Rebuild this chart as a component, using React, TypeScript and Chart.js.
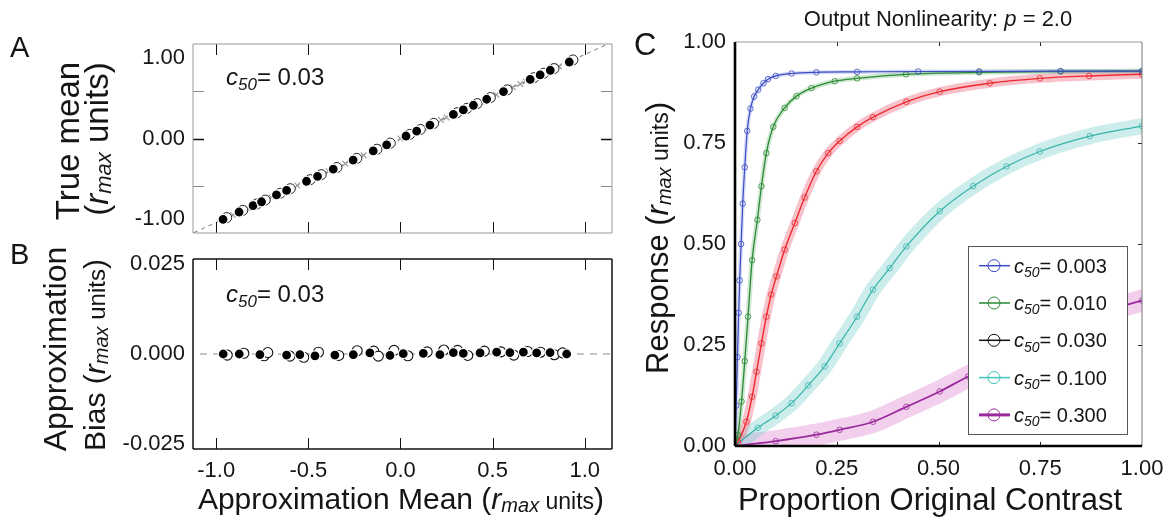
import React, { useEffect, useRef } from "react";
import { Chart, registerables } from "chart.js";
Chart.register(...registerables);

const FONT = "'Liberation Sans', Arial, Helvetica, sans-serif";

// ---------------- Panel A data ----------------
const aApproxMean = [-0.963, -0.876, -0.8, -0.754, -0.673, -0.618, -0.51, -0.45, -0.365, -0.257, -0.148, -0.075, 0.03, 0.088, 0.16, 0.287, 0.341, 0.396, 0.468, 0.559, 0.704, 0.758, 0.813, 0.916];
const aTrueMean = [-1.009, -0.918, -0.838, -0.79, -0.705, -0.648, -0.534, -0.472, -0.383, -0.269, -0.155, -0.079, 0.031, 0.092, 0.168, 0.301, 0.357, 0.415, 0.49, 0.586, 0.738, 0.794, 0.852, 0.955];
const aRepCircleX = [-0.943, -0.856, -0.78, -0.734, -0.653, -0.598, -0.49, -0.43, -0.345, -0.237, -0.128, -0.055, 0.05, 0.108, 0.18, 0.307, 0.361, 0.416, 0.488, 0.579, 0.724, 0.778, 0.833, 0.936];
const aRepCircleY = [-0.988, -0.897, -0.817, -0.769, -0.684, -0.627, -0.514, -0.451, -0.362, -0.248, -0.134, -0.058, 0.052, 0.113, 0.189, 0.322, 0.378, 0.436, 0.511, 0.607, 0.759, 0.815, 0.873, 0.981];
const aRepCrossX = [-0.91, -0.83, -0.7, -0.56, -0.39, -0.3, -0.2, -0.1, 0.0, 0.13, 0.22, 0.25, 0.44, 0.52, 0.61, 0.65, 0.68, 0.86];
const aRepCrossY = [-0.954, -0.87, -0.734, -0.587, -0.409, -0.314, -0.21, -0.105, 0.0, 0.136, 0.231, 0.262, 0.461, 0.545, 0.639, 0.681, 0.713, 0.901];
const aIdentityX = [-1.2, 1.2];
const aIdentityY = [-1.258, 1.258];
const aYTicks = [-1, 0, 1];
const aYMarksMinor = [-0.59, 0.59];
const aYMarksMajor = [0];

// ---------------- Panel B data ----------------
const bApproxMean = [-0.962, -0.875, -0.763, -0.618, -0.546, -0.464, -0.356, -0.256, -0.166, -0.057, 0.015, 0.124, 0.214, 0.287, 0.341, 0.432, 0.522, 0.594, 0.667, 0.739, 0.812, 0.902];
const bBias = [0, 0, -0.0002, -0.0003, -0.0002, -0.0005, -0.0003, -0.0002, 0.0003, -0.0004, 0.0001, 0.0002, -0.0002, 0.0004, 0.0002, 0.0003, 0.0005, 0.0004, 0.0005, 0.0003, 0.0004, 0];
const bRepX = [-0.94, -0.85, -0.74, -0.72, -0.6, -0.525, -0.445, -0.335, -0.235, -0.145, -0.12, -0.035, 0.04, 0.145, 0.235, 0.31, 0.365, 0.455, 0.545, 0.615, 0.69, 0.76, 0.835, 0.88];
const bRepY = [-0.0003, 0.0002, -0.0005, 0.0004, -0.0006, -0.0009, 0.0005, -0.0004, 0.0009, 0.0008, -0.0006, 0.001, -0.0005, 0.0006, 0.0011, 0.001, -0.0004, 0.0008, 0.0006, -0.0003, 0.0007, 0.0005, -0.0002, 0.0003];
const bZeroX = [-1.3, 1.3];
const bZeroY = [0, 0];
const bYTicks = [-0.025, 0, 0.025];
const abXTicks = [-1, -0.5, 0, 0.5, 1];

// ---------------- Panel C data ----------------
const c50Labels = ["0.003", "0.010", "0.030", "0.100", "0.300"];
const contrast003 = [0, 0.003, 0.006, 0.009, 0.0115, 0.015, 0.019, 0.024, 0.03, 0.038, 0.047, 0.057, 0.07, 0.081, 0.1, 0.139, 0.2, 0.3, 0.45, 0.6, 0.8, 1.0];
const response003 = [0, 0.1, 0.22, 0.33, 0.41, 0.5, 0.6, 0.69, 0.78, 0.835, 0.865, 0.882, 0.898, 0.908, 0.916, 0.922, 0.925, 0.926, 0.927, 0.927, 0.928, 0.928];
const contrast010 = [0, 0.007, 0.016, 0.024, 0.032, 0.042, 0.055, 0.065, 0.077, 0.094, 0.122, 0.151, 0.188, 0.245, 0.3, 0.42, 0.6, 0.8, 1.0];
const response010 = [0, 0.027, 0.11, 0.21, 0.32, 0.46, 0.56, 0.643, 0.725, 0.79, 0.837, 0.866, 0.886, 0.903, 0.91, 0.92, 0.925, 0.927, 0.928];
const contrast030 = [0, 0.007, 0.028, 0.042, 0.053, 0.065, 0.077, 0.089, 0.102, 0.122, 0.147, 0.171, 0.2, 0.229, 0.257, 0.3, 0.339, 0.421, 0.503, 0.626, 0.749, 0.87, 1.0];
const response030 = [0, 0.01, 0.06, 0.122, 0.184, 0.254, 0.32, 0.375, 0.42, 0.486, 0.552, 0.615, 0.68, 0.725, 0.755, 0.79, 0.814, 0.852, 0.877, 0.898, 0.91, 0.916, 0.92];
const contrast100 = [0, 0.056, 0.1, 0.139, 0.18, 0.22, 0.257, 0.3, 0.339, 0.38, 0.421, 0.503, 0.585, 0.667, 0.749, 0.872, 1.0];
const response100 = [0, 0.045, 0.075, 0.106, 0.15, 0.197, 0.254, 0.32, 0.387, 0.44, 0.494, 0.581, 0.643, 0.692, 0.729, 0.767, 0.792];
const contrast300 = [0, 0.1, 0.2, 0.257, 0.339, 0.421, 0.503, 0.573, 0.65, 0.75, 0.85, 0.95, 1.0];
const response300 = [0, 0.012, 0.028, 0.04, 0.06, 0.097, 0.135, 0.172, 0.208, 0.255, 0.3, 0.345, 0.36];
const cTicks = [0, 0.25, 0.5, 0.75, 1];
const cInnerMarks = [0.25, 0.5, 0.75];

const zip = (xs: number[], ys: number[]) => xs.map((x, i) => ({ x, y: ys[i] }));

// ---------------- drawing helpers ----------------
type Seg = { t: string; size: number; italic?: boolean; dy?: number };

function drawRich(ctx: CanvasRenderingContext2D, segs: Seg[], x: number, y: number, align: "left" | "center", rotate = false, color = "#151515") {
  ctx.save();
  ctx.translate(x, y);
  if (rotate) ctx.rotate(-Math.PI / 2);
  ctx.fillStyle = color;
  ctx.textBaseline = "alphabetic";
  ctx.textAlign = "left";
  const fontOf = (s: Seg) => `${s.italic ? "italic " : ""}${s.size}px ${FONT}`;
  let total = 0;
  for (const s of segs) {
    ctx.font = fontOf(s);
    total += ctx.measureText(s.t).width;
  }
  let cx = align === "center" ? -total / 2 : 0;
  for (const s of segs) {
    ctx.font = fontOf(s);
    ctx.fillText(s.t, cx, s.dy || 0);
    cx += ctx.measureText(s.t).width;
  }
  ctx.restore();
}

const rmaxUnits = (F: number, unitsScale: number): Seg[] => [
  { t: "(", size: F },
  { t: "r", size: F, italic: true },
  { t: "max", size: Math.round(F * 0.66), italic: true, dy: F * 0.1 },
  { t: " units", size: Math.round(F * unitsScale) },
  { t: ")", size: F },
];

const c50Segs = (F: number, value: string): Seg[] => [
  { t: "c", size: F, italic: true },
  { t: "50", size: Math.round(F * 0.72), italic: true, dy: F * 0.22 },
  { t: "= " + value, size: F },
];

type Mark = { axis: "x" | "y"; values: number[]; sides: string[]; len: number; color: string; width: number };
type Border = { color: string; width: number };
type TextItem = { segs: Seg[]; x: number; y: number; align: "left" | "center"; rotate?: boolean };
type Legend = { box: [number, number, number, number]; firstY: number; step: number; lineX: [number, number]; circleX: number; textX: number; labels: string[]; colors: string[]; widths: number[]; font: number };

function makePlugin(cfg: { marks: Mark[]; borders: { top: Border; right: Border; bottom: Border; left: Border }; texts: TextItem[]; legend?: Legend }) {
  return {
    id: "figure",
    afterDraw(chart: any) {
      const { ctx, chartArea: a, scales } = chart;
      ctx.save();
      for (const m of cfg.marks) {
        const sc = scales[m.axis];
        ctx.strokeStyle = m.color;
        ctx.lineWidth = m.width;
        for (const v of m.values) {
          const p = Math.round(sc.getPixelForValue(v)) + 0.5;
          ctx.beginPath();
          if (m.axis === "x") {
            if (m.sides.includes("bottom")) { ctx.moveTo(p, a.bottom); ctx.lineTo(p, a.bottom - m.len); }
            if (m.sides.includes("top")) { ctx.moveTo(p, a.top); ctx.lineTo(p, a.top + m.len); }
          } else {
            if (m.sides.includes("left")) { ctx.moveTo(a.left, p); ctx.lineTo(a.left + m.len, p); }
            if (m.sides.includes("right")) { ctx.moveTo(a.right, p); ctx.lineTo(a.right - m.len, p); }
          }
          ctx.stroke();
        }
      }
      const b = cfg.borders;
      const line = (x1: number, y1: number, x2: number, y2: number, s: Border) => {
        ctx.strokeStyle = s.color;
        ctx.lineWidth = s.width;
        ctx.beginPath();
        ctx.moveTo(x1, y1);
        ctx.lineTo(x2, y2);
        ctx.stroke();
      };
      line(a.left, a.top, a.right, a.top, b.top);
      line(a.right, a.top, a.right, a.bottom, b.right);
      line(a.left, a.bottom, a.right, a.bottom, b.bottom);
      line(a.left, a.top, a.left, a.bottom, b.left);
      const lg = cfg.legend;
      if (lg) {
        const [x1, y1, x2, y2] = lg.box;
        ctx.fillStyle = "#fff";
        ctx.fillRect(x1, y1, x2 - x1, y2 - y1);
        ctx.strokeStyle = "#555";
        ctx.lineWidth = 1;
        ctx.strokeRect(x1 + 0.5, y1 + 0.5, x2 - x1, y2 - y1);
        lg.labels.forEach((lab, i) => {
          const cy = lg.firstY + i * lg.step;
          ctx.strokeStyle = lg.colors[i];
          ctx.lineWidth = lg.widths[i];
          ctx.beginPath();
          ctx.moveTo(lg.lineX[0], cy);
          ctx.lineTo(lg.lineX[1], cy);
          ctx.stroke();
          ctx.lineWidth = 1;
          ctx.beginPath();
          ctx.arc(lg.circleX, cy, 6, 0, Math.PI * 2);
          ctx.stroke();
          drawRich(ctx, c50Segs(lg.font, lab), lg.textX, cy + 7, "left");
        });
      }
      for (const t of cfg.texts) drawRich(ctx, t.segs, t.x, t.y, t.align, t.rotate);
      ctx.restore();
    },
  };
}

const tickFont = { family: FONT, size: 22 };

function noPad(scale: any) {
  scale.paddingTop = 0;
  scale.paddingBottom = 0;
  scale.paddingLeft = 0;
  scale.paddingRight = 0;
}
function fixedWidth(w: number) {
  return (scale: any) => { scale.width = w; noPad(scale); };
}
function fixedHeight(h: number) {
  return (scale: any) => { scale.height = h; noPad(scale); };
}

// ---------------- chart configs ----------------
const A_H = 240;
const B_TOP = 228;
const B_H = 523 - 228;

function configA(): any {
  return {
    type: "scatter",
    data: {
      datasets: [
        { data: zip(aApproxMean, aTrueMean), pointRadius: 5, backgroundColor: "#000", borderColor: "#fff", pointBorderWidth: 1.2 },
        { data: zip(aRepCircleX, aRepCircleY), pointRadius: 5, backgroundColor: "#fff", borderColor: "#222", pointBorderWidth: 1 },
        { data: zip(aRepCrossX, aRepCrossY), pointStyle: "crossRot", pointRadius: 4, backgroundColor: "#999", borderColor: "#9a9a9a", pointBorderWidth: 1.2 },
        { data: zip(aIdentityX, aIdentityY), showLine: true, borderColor: "#666", borderWidth: 0.9, borderDash: [4, 4], pointRadius: 0 },
      ],
    },
    options: {
      animation: false,
      responsive: false,
      devicePixelRatio: 1,
      layout: { autoPadding: false, padding: { left: 0, top: 44, right: 13, bottom: A_H - 233 } },
      plugins: { legend: { display: false }, tooltip: { enabled: false } },
      scales: {
        x: { type: "linear", min: -1.126, max: 1.148, display: false },
        y: {
          type: "linear", min: -1.18, max: 1.18,
          afterFit: fixedWidth(193),
          afterBuildTicks: (s: any) => { s.ticks = aYTicks.map((v) => ({ value: v })); },
          grid: { display: false, drawTicks: false },
          border: { display: false },
          ticks: { font: tickFont, color: "#151515", padding: 8, callback: (v: any) => Number(v).toFixed(2) },
        },
      },
    },
    plugins: [
      makePlugin({
        marks: [
          { axis: "x", values: abXTicks, sides: ["top", "bottom"], len: 11, color: "#111", width: 1 },
          { axis: "y", values: aYMarksMinor, sides: ["left", "right"], len: 11, color: "#888", width: 1 },
          { axis: "y", values: aYMarksMajor, sides: ["left", "right"], len: 11, color: "#111", width: 1.6 },
        ],
        borders: { top: { color: "#999", width: 1 }, right: { color: "#999", width: 1 }, bottom: { color: "#999", width: 1 }, left: { color: "#999", width: 1 } },
        texts: [
          { segs: [{ t: "A", size: 29 }], x: 10, y: 57, align: "left" },
          { segs: [{ t: "True mean", size: 33 }], x: 79, y: 141, align: "center", rotate: true },
          { segs: rmaxUnits(33, 1.0), x: 108, y: 139, align: "center", rotate: true },
          { segs: c50Segs(24, "0.03"), x: 226, y: 85, align: "left" },
        ],
      }),
    ],
  };
}

function configB(): any {
  const oy = B_TOP;
  return {
    type: "scatter",
    data: {
      datasets: [
        { data: zip(bApproxMean, bBias), pointRadius: 5, backgroundColor: "#000", borderColor: "#fff", pointBorderWidth: 1.2 },
        { data: zip(bRepX, bRepY), pointRadius: 5, backgroundColor: "#fff", borderColor: "#111", pointBorderWidth: 1.1 },
        { data: zip(bZeroX, bZeroY), showLine: true, borderColor: "#8a8a8a", borderWidth: 1, borderDash: [7, 6], pointRadius: 0 },
      ],
    },
    options: {
      animation: false,
      responsive: false,
      devicePixelRatio: 1,
      layout: { autoPadding: false, padding: { left: 0, top: 259 - oy, right: 13, bottom: 0 } },
      plugins: { legend: { display: false }, tooltip: { enabled: false } },
      scales: {
        x: {
          type: "linear", min: -1.126, max: 1.148,
          afterFit: fixedHeight(B_H - (449 - oy)),
          afterBuildTicks: (s: any) => { s.ticks = abXTicks.map((v) => ({ value: v })); },
          grid: { display: false, drawTicks: false },
          border: { display: false },
          ticks: { font: tickFont, color: "#151515", padding: 9, maxRotation: 0, callback: (v: any) => Number(v).toFixed(1) },
        },
        y: {
          type: "linear", min: -0.0264, max: 0.0264,
          afterFit: fixedWidth(193),
          afterBuildTicks: (s: any) => { s.ticks = bYTicks.map((v) => ({ value: v })); },
          grid: { display: false, drawTicks: false },
          border: { display: false },
          ticks: { font: tickFont, color: "#151515", padding: 8, callback: (v: any) => Number(v).toFixed(3) },
        },
      },
    },
    plugins: [
      makePlugin({
        marks: [{ axis: "x", values: abXTicks, sides: ["top", "bottom"], len: 11, color: "#111", width: 1 }],
        borders: { top: { color: "#111", width: 1.5 }, right: { color: "#111", width: 1.5 }, bottom: { color: "#111", width: 1.5 }, left: { color: "#111", width: 1.5 } },
        texts: [
          { segs: [{ t: "B", size: 29 }], x: 10, y: 264 - oy, align: "left" },
          { segs: [{ t: "Approximation", size: 32 }], x: 66, y: 349 - oy, align: "center", rotate: true },
          { segs: [{ t: "Bias ", size: 30 }, ...rmaxUnits(30, 0.8)], x: 105, y: 355 - oy, align: "center", rotate: true },
          { segs: c50Segs(24, "0.03"), x: 226, y: 302 - oy, align: "left" },
          { segs: [{ t: "Approximation Mean ", size: 30 }, ...rmaxUnits(30, 0.78)], x: 401, y: 509 - oy, align: "center" },
        ],
      }),
    ],
  };
}

const curveStyles = [
  { color: "#3b4cc4", band: "rgba(95,115,215,0.25)", bandW: 4, lw: 1.2 },
  { color: "#2a8a36", band: "rgba(70,165,80,0.25)", bandW: 5, lw: 1.3 },
  { color: "#ee2a30", band: "rgba(240,120,140,0.45)", bandW: 9, lw: 1.4 },
  { color: "#36b4aa", band: "rgba(120,208,202,0.38)", bandW: 16, lw: 1.2 },
  { color: "#9a2a9c", band: "rgba(222,140,212,0.42)", bandW: 22, lw: 1.8 },
];
const legendColors = ["#3b4cc4", "#2a8a36", "#111111", "#40c4bc", "#9a2a9c"];
const legendWidths = [1.5, 1.5, 1.5, 1.5, 3];

function configC(): any {
  const ox = 625;
  const series = [
    zip(contrast003, response003),
    zip(contrast010, response010),
    zip(contrast030, response030),
    zip(contrast100, response100),
    zip(contrast300, response300),
  ];
  const lines = series.map((d, i) => ({
    data: d,
    showLine: true,
    cubicInterpolationMode: "monotone",
    borderColor: curveStyles[i].color,
    borderWidth: curveStyles[i].lw,
    pointRadius: 2.8,
    pointStyle: "circle",
    backgroundColor: "rgba(0,0,0,0)",
    pointBorderColor: curveStyles[i].color,
    pointBorderWidth: 0.8,
  }));
  const bands = series.map((d, i) => ({
    data: d,
    showLine: true,
    cubicInterpolationMode: "monotone",
    borderColor: curveStyles[i].band,
    borderWidth: curveStyles[i].bandW,
    borderCapStyle: "round",
    borderJoinStyle: "round",
    pointRadius: 0,
  }));
  return {
    type: "scatter",
    data: { datasets: [...lines, ...bands] },
    options: {
      animation: false,
      responsive: false,
      devicePixelRatio: 1,
      layout: { autoPadding: false, padding: { left: 0, top: 42, right: 546 - (1142 - ox), bottom: 0 } },
      plugins: { legend: { display: false }, tooltip: { enabled: false } },
      scales: {
        x: {
          type: "linear", min: 0, max: 1,
          afterFit: fixedHeight(523 - 446),
          afterBuildTicks: (s: any) => { s.ticks = cTicks.map((v) => ({ value: v })); },
          grid: { display: false, drawTicks: false },
          border: { display: false },
          ticks: { font: tickFont, color: "#151515", padding: 10, maxRotation: 0, callback: (v: any) => Number(v).toFixed(2) },
        },
        y: {
          type: "linear", min: 0, max: 1,
          afterFit: fixedWidth(735 - ox),
          afterBuildTicks: (s: any) => { s.ticks = cTicks.map((v) => ({ value: v })); },
          grid: { display: false, drawTicks: false },
          border: { display: false },
          ticks: { font: tickFont, color: "#151515", padding: 9, callback: (v: any) => Number(v).toFixed(2) },
        },
      },
    },
    plugins: [
      makePlugin({
        marks: [
          { axis: "x", values: cInnerMarks, sides: ["top", "bottom"], len: 4, color: "#222", width: 1 },
          { axis: "y", values: cInnerMarks, sides: ["right"], len: 4, color: "#222", width: 1 },
        ],
        borders: { top: { color: "#999", width: 1 }, right: { color: "#777", width: 1 }, bottom: { color: "#000", width: 2.6 }, left: { color: "#000", width: 2.6 } },
        legend: {
          box: [968 - ox, 246, 1127 - ox, 434],
          firstY: 265.7,
          step: 37.3,
          lineX: [979 - ox, 1010 - ox],
          circleX: 994 - ox,
          textX: 1014 - ox,
          labels: c50Labels,
          colors: legendColors,
          widths: legendWidths,
          font: 20,
        },
        texts: [
          { segs: [{ t: "C", size: 31 }], x: 634 - ox, y: 55, align: "left" },
          { segs: [{ t: "Output Nonlinearity: ", size: 22 }, { t: "p", size: 22, italic: true }, { t: " = 2.0", size: 22 }], x: 938 - ox, y: 26, align: "center" },
          { segs: [{ t: "Response ", size: 31 }, ...rmaxUnits(31, 0.75)], x: 668 - ox, y: 238, align: "center", rotate: true },
          { segs: [{ t: "Proportion Original Contrast", size: 31 }], x: 930 - ox, y: 510, align: "center" },
        ],
      }),
    ],
  };
}

function Panel({ make, left, top, width, height }: { make: () => any; left: number; top: number; width: number; height: number }) {
  const ref = useRef<HTMLCanvasElement>(null);
  useEffect(() => {
    const chart = new Chart(ref.current as HTMLCanvasElement, make());
    return () => chart.destroy();
  }, []);
  return <canvas ref={ref} width={width} height={height} style={{ position: "absolute", left, top, width, height }} />;
}

export default function App() {
  return (
    <div style={{ position: "absolute", left: 0, top: 0, width: 1171, height: 523, background: "#fff", overflow: "hidden" }}>
      <Panel make={configA} left={0} top={0} width={625} height={A_H} />
      <Panel make={configB} left={0} top={B_TOP} width={625} height={B_H} />
      <Panel make={configC} left={625} top={0} width={546} height={523} />
    </div>
  );
}
